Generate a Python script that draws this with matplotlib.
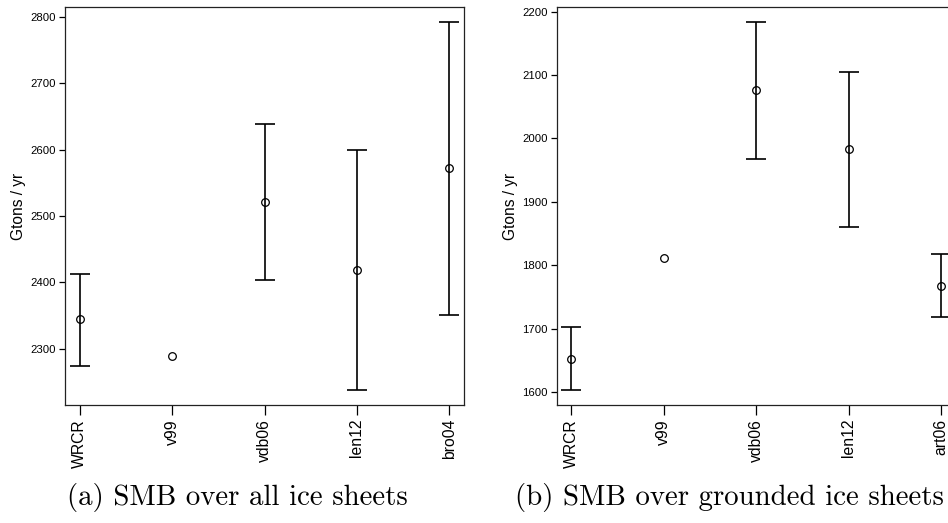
"""SMB comparison: two error-bar panels (all vs grounded ice sheets)."""

import matplotlib
matplotlib.use("Agg")
import matplotlib.pyplot as plt

# (a) SMB over all ice sheets
labels_all = ["WRCR", "v99", "vdb06", "len12", "bro04"]
mean_all = [2345, 2288, 2521, 2418, 2572]
low_all = [2274, None, 2403, 2237, 2351]
high_all = [2413, None, 2639, 2599, 2793]

# (b) SMB over grounded ice sheets
labels_grd = ["WRCR", "v99", "vdb06", "len12", "art06"]
mean_grd = [1653, 1811, 2076, 1983, 1768]
low_grd = [1603, None, 1968, 1861, 1719]
high_grd = [1702, None, 2184, 2105, 1818]

plt.rcParams["font.family"] = ["Liberation Sans", "DejaVu Sans"]

fig = plt.figure(figsize=(9.48, 5.23), dpi=100)


def draw_panel(ax, labels, mean, low, high, caption, cap_x):
    xs = list(range(1, len(labels) + 1))
    for x, m, lo, hi in zip(xs, mean, low, high):
        if lo is not None:
            ax.errorbar([x], [m], yerr=[[m - lo], [hi - m]], fmt="none",
                        ecolor="black", elinewidth=1.2, capsize=7, capthick=1.2)
    ax.plot(xs, mean, "o", mfc="none", mec="black", ms=5.5, mew=0.9, ls="none")

    vals = [v for v in low + high + mean if v is not None]
    pad = 0.04 * (max(vals) - min(vals))
    ax.set_ylim(min(vals) - pad, max(vals) + pad)
    ax.set_xlim(1 - 0.04 * (len(xs) - 1), len(xs) + 0.04 * (len(xs) - 1))

    ax.set_xticks(xs)
    ax.set_xticklabels(labels, rotation=90, fontsize=11.3)
    ax.tick_params(axis="x", length=7, width=0.9, pad=3)
    ax.tick_params(axis="y", length=4.5, width=0.9, labelsize=8.2, pad=2)
    ax.set_ylabel("Gtons / yr", fontsize=11.2, labelpad=3)
    for sp in ax.spines.values():
        sp.set_linewidth(0.9)
        sp.set_color("#222222")

    fig.text(cap_x, 0.048, caption, family="cmr10", fontsize=20.8,
             ha="center", va="center")


ax_a = fig.add_axes([0.0686, 0.2256, 0.4209, 0.761])
draw_panel(ax_a, labels_all, mean_all, low_all, high_all,
           "(a) SMB over all ice sheets", 0.25)

ax_b = fig.add_axes([0.5872, 0.2256, 0.4209, 0.761])
draw_panel(ax_b, labels_grd, mean_grd, low_grd, high_grd,
           "(b) SMB over grounded ice sheets", 0.769)

fig.savefig("out.png", dpi=100)
